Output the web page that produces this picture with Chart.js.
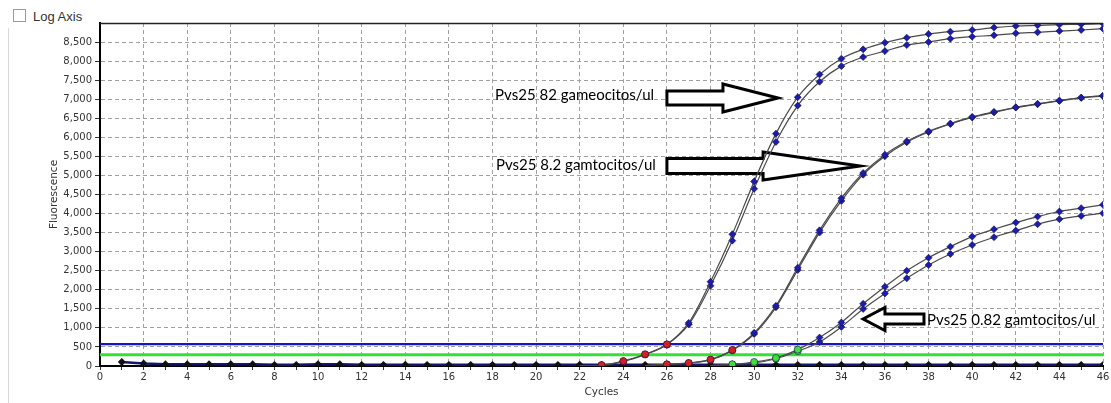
<!DOCTYPE html>
<html lang="es">
<head>
  <title>Amplificacion Pvs25</title>
  <style>
    body {
      margin: 0;
      background: #fff;
      font-family: "Liberation Sans", Arial, sans-serif;
    }

    #panel {
      position: absolute;
      left: 0;
      top: 0;
      width: 1111px;
      height: 403px;
    }

    #edge {
      position: absolute;
      left: 8px;
      top: 28px;
      width: 0;
      height: 375px;
      border-left: 1px solid #d8d8d8;
    }

    #log-axis {
      position: absolute;
      left: 13px;
      top: 9px;
      font-size: 13px;
      color: #333;
    }

    #log-axis span {
      display: inline-block;
      width: 11px;
      height: 11px;
      border: 1px solid #9a9a9a;
      background: #fff;
      vertical-align: -1px;
      margin-right: 7px;
    }

    #chart-container {
      position: absolute;
      left: 0;
      top: 0;
      width: 1111px;
      height: 403px;
    }
  </style>
  <script src="https://cdn.jsdelivr.net/npm/chart.js"></script>
</head>
<body>
<div id="panel">
  <div id="edge"></div>
  <div id="log-axis"><span></span>Log Axis</div>
  <div id="chart-container">
    <canvas id="ampChart"></canvas>
  </div>
</div>
<script>
const CYCLES_BASE = [1, 2, 3, 4, 5, 6, 7, 8, 9, 10, 11, 12, 13, 14, 15, 16, 17, 18, 19, 20, 21, 22, 23,
  24, 25, 26, 27, 28, 29, 30, 31, 32, 33, 34, 35, 36, 37, 38, 39, 40, 41, 42, 43, 44, 45, 46];
const FLUOR_BASE = [105, 65, 45, 45, 45, 48, 45, 30, 30, 48, 48, 30, 30, 32, 30, 30, 30, 30, 30, 30, 30, 35, 30,
  30, 30, 30, 30, 30, 30, 30, 30, 30, 30, 30, 30, 30, 30, 30, 30, 30, 30, 30, 30, 30, 30, 30];

// Pvs25 82 gametocitos/ul
const CYCLES_A = [22, 23, 24, 25, 26, 27, 28, 29, 30, 31, 32, 33, 34, 35, 36, 37, 38, 39, 40, 41, 42, 43, 44, 45, 46];
const FLUOR_A1 = [10, 25, 130, 310, 570, 1131, 2210, 3458, 4842, 6097, 7053, 7650, 8063, 8308, 8484, 8616, 8710,
  8773, 8816, 8879, 8921, 8939, 8958, 8966, 8984];
const FLUOR_A2 = [10, 20, 120, 300, 560, 1089, 2105, 3289, 4650, 5879, 6834, 7458, 7868, 8105, 8263, 8421, 8500,
  8589, 8642, 8676, 8729, 8755, 8789, 8816, 8852];

// Pvs25 8.2 gametocitos/ul
const CYCLES_B = [25, 26, 27, 28, 29, 30, 31, 32, 33, 34, 35, 36, 37, 38, 39, 40, 41, 42, 43, 44, 45, 46];
const FLUOR_B1 = [10, 45, 80, 168, 421, 870, 1580, 2580, 3560, 4400, 5063, 5545, 5895, 6158, 6361, 6537, 6668,
  6790, 6879, 6966, 7045, 7097];
const FLUOR_B2 = [10, 40, 75, 160, 410, 840, 1540, 2520, 3500, 4330, 5020, 5505, 5870, 6140, 6350, 6520, 6655,
  6780, 6870, 6955, 7035, 7080];

// Pvs25 0.82 gametocitos/ul
const CYCLES_C = [28, 29, 30, 31, 32, 33, 34, 35, 36, 37, 38, 39, 40, 41, 42, 43, 44, 45, 46];
const FLUOR_C1 = [10, 45, 105, 210, 430, 747, 1142, 1633, 2079, 2500, 2842, 3132, 3395, 3589, 3763, 3921, 4053,
  4142, 4229];
const FLUOR_C2 = [10, 40, 80, 190, 390, 632, 1026, 1497, 1905, 2300, 2650, 2939, 3176, 3379, 3553, 3721, 3853,
  3939, 4010];

// Umbrales horizontales
const THRESHOLD_BLUE = 575;
const THRESHOLD_GREEN = 295;
const X_RANGE = [0, 46];

// Etiquetas y flechas, en unidades de los ejes
const NOTES = [
  { text: 'Pvs25 82 gameocitos/ul', cycle: 18.12, fluor: 7111 },
  { text: 'Pvs25 8.2 gamtocitos/ul', cycle: 18.16, fluor: 5274 },
  { text: 'Pvs25 0.82 gamtocitos/ul', cycle: 37.93, fluor: 1207 }
];
const ARROWS = [
  { tail: 26.0, base: 28.57, tip: 31.10, fluor: 7032, shaft: 7, head: 14 },
  { tail: 26.0, base: 30.41, tip: 34.86, fluor: 5248, shaft: 7.5, head: 14 },
  { tail: 37.79, base: 36.0, tip: 35.0, fluor: 1233, shaft: 5, head: 11.5 }
];

function toPoints(xs, ys) {
  var pts = [];
  for (var i = 0; i < xs.length; i++) {
    pts.push({ x: xs[i], y: ys[i] });
  }
  return pts;
}

function curve(xs, ys, earlyColor) {
  return {
    data: toPoints(xs, ys),
    borderColor: '#4a4a4a',
    borderWidth: 1.2,
    cubicInterpolationMode: 'monotone',
    order: 1,
    pointRadius: function(ctx) {
      return ctx.raw && ctx.raw.y < 15 ? 0 : 3.5;
    },
    pointStyle: function(ctx) {
      return ctx.raw && ctx.raw.y < THRESHOLD_BLUE ? 'circle' : 'rectRot';
    },
    pointBackgroundColor: function(ctx) {
      return ctx.raw && ctx.raw.y < THRESHOLD_BLUE ? earlyColor : '#1c1cb0';
    },
    pointBorderColor: '#10104a',
    pointBorderWidth: 0.6
  };
}

function flatLine(value, color, width) {
  return {
    data: toPoints(X_RANGE, [value, value]),
    borderColor: color,
    borderWidth: width,
    pointRadius: 0,
    order: 5
  };
}

// Flechas y textos de anotacion
const annotations = {
  id: 'annotations',
  beforeDatasetsDraw: function(chart) {
    var ctx = chart.ctx;
    var xs = chart.scales.x;
    var ys = chart.scales.y;
    ctx.save();
    ctx.lineWidth = 3;
    ctx.lineJoin = 'miter';
    ctx.strokeStyle = '#000';
    ctx.fillStyle = '#fff';
    ARROWS.forEach(function(a) {
      var x0 = xs.getPixelForValue(a.tail);
      var x1 = xs.getPixelForValue(a.base);
      var x2 = xs.getPixelForValue(a.tip);
      var y = ys.getPixelForValue(a.fluor);
      ctx.beginPath();
      ctx.moveTo(x0, y - a.shaft);
      ctx.lineTo(x1, y - a.shaft);
      ctx.lineTo(x1, y - a.head);
      ctx.lineTo(x2, y);
      ctx.lineTo(x1, y + a.head);
      ctx.lineTo(x1, y + a.shaft);
      ctx.lineTo(x0, y + a.shaft);
      ctx.closePath();
      ctx.fill();
      ctx.stroke();
    });
    ctx.restore();
  },
  afterDatasetsDraw: function(chart) {
    var ctx = chart.ctx;
    var area = chart.chartArea;
    ctx.save();
    // borde superior del area del grafico
    ctx.strokeStyle = '#222';
    ctx.lineWidth = 1.5;
    ctx.beginPath();
    ctx.moveTo(area.left, area.top + 0.5);
    ctx.lineTo(area.right, area.top + 0.5);
    ctx.stroke();

    ctx.fillStyle = '#000';
    ctx.font = '15px Lato, "Open Sans", sans-serif';
    ctx.textAlign = 'left';
    ctx.textBaseline = 'middle';
    NOTES.forEach(function(n) {
      ctx.fillText(n.text, chart.scales.x.getPixelForValue(n.cycle), chart.scales.y.getPixelForValue(n.fluor));
    });
    ctx.restore();
  }
};

var tickFont = { family: '"DejaVu Sans", Verdana, sans-serif', size: 10 };

var ampChart = new Chart(document.getElementById('ampChart').getContext('2d'), {
  type: 'line',
  data: {
    datasets: [
      curve(CYCLES_A, FLUOR_A1, '#d42020'),
      curve(CYCLES_A, FLUOR_A2, '#d42020'),
      curve(CYCLES_B, FLUOR_B1, '#d42020'),
      curve(CYCLES_B, FLUOR_B2, '#d42020'),
      curve(CYCLES_C, FLUOR_C1, '#3ee03e'),
      curve(CYCLES_C, FLUOR_C2, '#3ee03e'),
      {
        data: toPoints(CYCLES_BASE, FLUOR_BASE),
        borderColor: '#14146e',
        borderWidth: 2.5,
        pointStyle: 'rectRot',
        pointRadius: 2.2,
        pointBackgroundColor: '#111',
        pointBorderColor: '#111',
        order: 2
      },
      flatLine(THRESHOLD_BLUE, '#1414d0', 2.2),
      flatLine(THRESHOLD_GREEN, '#35e035', 3)
    ]
  },
  options: {
    responsive: true,
    maintainAspectRatio: false,
    animation: false,
    locale: 'en-US',
    layout: {
      padding: { left: 44, right: 8, top: 23, bottom: 0 }
    },
    plugins: {
      legend: { display: false },
      tooltip: { enabled: false }
    },
    scales: {
      x: {
        type: 'linear',
        min: 0,
        max: 46,
        ticks: {
          stepSize: 1,
          autoSkip: false,
          maxRotation: 0,
          padding: 1,
          color: '#333',
          font: tickFont,
          callback: function(v) {
            return v % 2 === 0 ? String(v) : '';
          }
        },
        grid: {
          color: function(ctx) {
            return ctx.tick && ctx.tick.value % 2 === 0 ? '#a0a0a0' : 'rgba(0,0,0,0)';
          },
          tickColor: '#333',
          tickLength: 4,
          lineWidth: 1
        },
        border: { color: '#000', width: 2, dash: [4, 3] },
        title: {
          display: true,
          text: 'Cycles',
          color: '#333',
          font: { family: '"DejaVu Sans", Verdana, sans-serif', size: 10.5 },
          padding: { top: 0, bottom: 4 }
        },
        afterFit: function(axis) {
          axis.height = 37;
        }
      },
      y: {
        min: 0,
        max: 9000,
        ticks: {
          stepSize: 500,
          padding: 3,
          color: '#333',
          font: tickFont
        },
        afterBuildTicks: function(axis) {
          axis.ticks = axis.ticks.filter(function(t) { return t.value < 9000; });
        },
        grid: {
          color: '#a0a0a0',
          tickColor: '#333',
          tickLength: 5,
          lineWidth: 1
        },
        border: { color: '#000', width: 2, dash: [4, 3] },
        title: {
          display: true,
          text: 'Fluorescence',
          color: '#333',
          font: { family: '"DejaVu Sans", Verdana, sans-serif', size: 10.5 },
          padding: { top: 4, bottom: 4 }
        },
        afterFit: function(axis) {
          axis.width = 56;
        }
      }
    }
  },
  plugins: [annotations]
});
</script>
</body>
</html>
